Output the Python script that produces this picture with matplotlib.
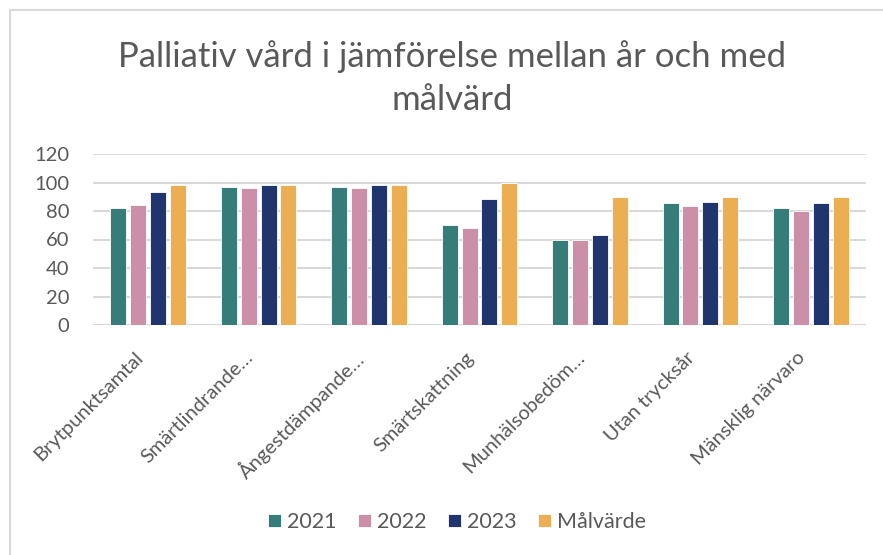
import matplotlib
matplotlib.use("Agg")
import matplotlib.pyplot as plt
from matplotlib.lines import Line2D
import matplotlib.transforms as mtransforms
import numpy as np

categories = ["Brytpunktsamtal", "Smärtlindrande…", "Ångestdämpande…", "Smärtskattning",
              "Munhälsobedöm…", "Utan trycksår", "Mänsklig närvaro"]
series_names = ["2021", "2022", "2023", "Målvärde"]
v2021 = [82, 96.5, 96.5, 70.5, 59.5, 85.5, 82]
v2022 = [84.5, 96, 96, 68, 60, 83.5, 80]
v2023 = [93.5, 98, 98, 88.5, 63, 86.5, 85.5]
target = [98, 98, 98, 100, 90, 90, 90]
colors = ["#367D79", "#CC8FA8", "#20356E", "#EBAE52"]
yticks = [0, 20, 40, 60, 80, 100, 120]

plt.rcParams['font.family'] = ['Lato', 'DejaVu Sans']
text_color = "#595959"

fig = plt.figure(figsize=(8.83, 5.55), dpi=100)
ax = fig.add_axes([93/883, 1-325/555, (866-93)/883, (325-154)/555])

x = np.arange(len(categories))
step = 0.18
width = 0.145
for i, (vals, c, name) in enumerate(zip([v2021, v2022, v2023, target], colors, series_names)):
    ax.bar(x + (i - 1.5) * step, vals, width=width, color=c, edgecolor="white",
           linewidth=0.6, label=name, zorder=3)

ax.set_ylim(0, 120)
ax.set_xlim(-0.5, len(categories) - 0.5)
ax.set_yticks(yticks)
ax.set_yticklabels([str(t) for t in yticks], fontsize=14.5, color=text_color)
ax.yaxis.grid(True, color="#D9D9D9", linewidth=1.5, zorder=0)
ax.set_axisbelow(True)
for s in ax.spines.values():
    s.set_visible(False)
ax.tick_params(axis="both", length=0)
ax.tick_params(axis="y", pad=17)
ax.set_xticks(x)
ax.set_xticklabels(categories, rotation=45, ha="right", va="center", rotation_mode="anchor",
                   fontsize=14.5, color=text_color)
ax.tick_params(axis="x", pad=20)
offset = mtransforms.ScaledTranslation(-8/100, -2/100, fig.dpi_scale_trans)
for lbl in ax.get_xticklabels():
    lbl.set_transform(lbl.get_transform() + offset)

fig.text(452/883, 1-57/555, "Palliativ vård i jämförelse mellan år och med",
         ha="center", va="center", fontsize=25, color=text_color)
fig.text(452/883, 1-100/555, "målvärd", ha="center", va="center", fontsize=25,
         color=text_color)

handles, labels = ax.get_legend_handles_labels()
fig.legend(handles, labels, loc="center", bbox_to_anchor=(457/883, 1-522/555), ncol=4,
           frameon=False, fontsize=15.5, handlelength=0.6, handleheight=0.6,
           handletextpad=0.28, columnspacing=1.0, labelcolor=text_color)

fig.add_artist(Line2D([10/883, 1], [1-10/555, 1-10/555], color="#D9D9D9", linewidth=1.5,
                      transform=fig.transFigure))
fig.add_artist(Line2D([10/883, 10/883], [0, 1-10/555], color="#D9D9D9", linewidth=1.5,
                      transform=fig.transFigure))

fig.savefig("out.png", dpi=100)
